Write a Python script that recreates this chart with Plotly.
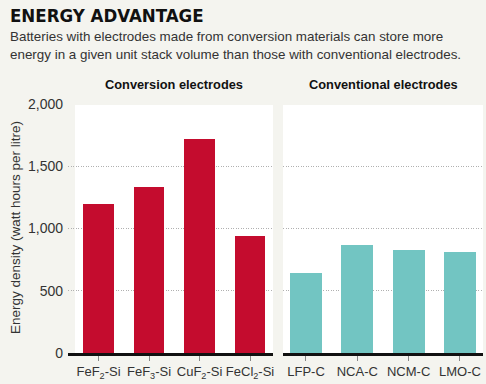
import plotly.graph_objects as go

W, H = 486, 384

conv_labels = ["FeF<sub>2</sub>-Si", "FeF<sub>3</sub>-Si", "CuF<sub>2</sub>-Si", "FeCl<sub>2</sub>-Si"]
conv_values = [1200, 1330, 1720, 940]
trad_labels = ["LFP-C", "NCA-C", "NCM-C", "LMO-C"]
trad_values = [640, 870, 830, 810]
y_ticks = [0, 500, 1000, 1500, 2000]

BG = "#f4f4ef"
RED = "#c40c2e"
TEAL = "#72c5c2"
FONT = "Liberation Sans"

def px(x):
    return x / W

def py(y):
    return 1 - y / H

fig = go.Figure()
fig.add_trace(go.Bar(x=list(range(len(conv_values))), y=conv_values, width=0.61,
                     marker=dict(color=RED, line=dict(width=0)), xaxis="x", yaxis="y"))
fig.add_trace(go.Bar(x=list(range(len(trad_values))), y=trad_values, width=0.62,
                     marker=dict(color=TEAL, line=dict(width=0)), xaxis="x2", yaxis="y2"))

ydom = [py(353), py(104)]
common_x = dict(showline=True, linecolor="#111", linewidth=2.5, ticks="outside", ticklen=5,
                tickcolor="#888", tickwidth=1, showgrid=False, zeroline=False, tickangle=0,
                automargin=False,
                tickfont=dict(family=FONT, size=13, color="#333"), fixedrange=True)
grid = dict(showgrid=True, gridcolor="#b0b0b0", griddash="1px,1.5px", gridwidth=1,
            zeroline=False, showline=False, ticks="", automargin=False, fixedrange=True)
fig.update_layout(
    width=W, height=H, margin=dict(l=0, r=0, t=0, b=0, autoexpand=False),
    paper_bgcolor=BG, plot_bgcolor="rgba(0,0,0,0)", showlegend=False, bargap=0,
    xaxis=dict(domain=[px(68), px(273)], range=[-0.604, 3.455], anchor="y",
               tickvals=list(range(4)), ticktext=conv_labels, **common_x),
    xaxis2=dict(domain=[px(283), px(483)], range=[-0.448, 3.45], anchor="y2",
                tickvals=list(range(4)), ticktext=trad_labels, **common_x),
    yaxis=dict(domain=ydom, range=[0, 2000], anchor="x", tickvals=y_ticks,
               ticktext=[f"{v:,}" for v in y_ticks], ticklabelstandoff=4,
               tickfont=dict(family=FONT, size=14, color="#333"), **grid),
    yaxis2=dict(domain=ydom, range=[0, 2000], anchor="x2", matches="y", tickvals=y_ticks,
                showticklabels=False, **grid),
)

fig.add_shape(type="rect", xref="paper", yref="paper", x0=px(75), x1=px(273),
              y0=py(353), y1=py(105), fillcolor="white", line=dict(width=0), layer="below")
fig.add_shape(type="rect", xref="paper", yref="paper", x0=px(283), x1=px(483),
              y0=py(353), y1=py(105), fillcolor="white", line=dict(width=0), layer="below")

def ann(text, x, y, size, xanchor="left", bold=False, family=FONT, color="#222", angle=0):
    fig.add_annotation(text=f"<b>{text}</b>" if bold else text, xref="paper", yref="paper",
                       x=px(x), y=py(y), xanchor=xanchor, yanchor="middle", showarrow=False,
                       textangle=angle, font=dict(family=family, size=size, color=color))

ann("ENERGY ADVANTAGE", 8, 15, 18.5, bold=True, family="DejaVu Sans Condensed", color="#111")
ann("Batteries with electrodes made from conversion materials can store more", 8, 37, 13.4, color="#333")
ann("energy in a given unit stack volume than those with conventional electrodes.", 8, 54, 13.4, color="#333")
ann("Conversion electrodes", 174, 85, 12.8, xanchor="center", bold=True, color="#111")
ann("Conventional electrodes", 383, 85, 12.8, xanchor="center", bold=True, color="#111")
ann("Energy density (watt hours per litre)", 15, 228, 13.5, xanchor="center", color="#333", angle=-90)

fig.write_html("out.html", config={"displayModeBar": False},
               post_script="document.body.style.margin='0';document.body.style.padding='0';")
